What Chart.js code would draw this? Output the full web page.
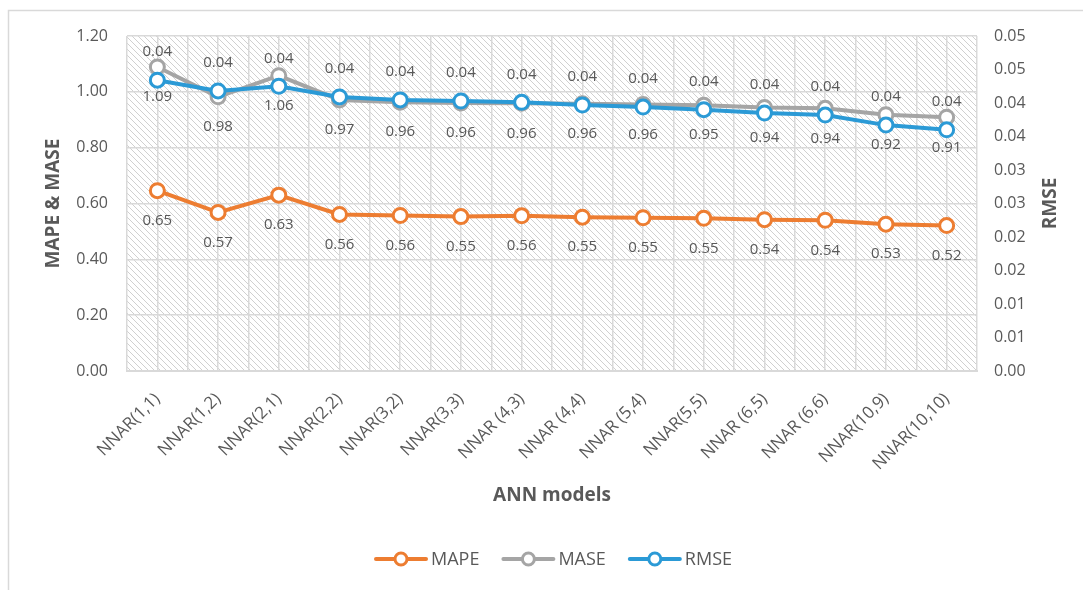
<!DOCTYPE html>
<html><head><meta charset="utf-8">
<script src="https://cdn.jsdelivr.net/npm/chart.js@4.4.1/dist/chart.umd.min.js"></script>
<style>html,body{margin:0;padding:0;background:#fff;overflow:hidden}canvas{display:block}</style>
</head><body>
<canvas id="c" width="1083" height="590"></canvas>
<script>
const categories = ['NNAR(1,1)','NNAR(1,2)','NNAR(2,1)','NNAR(2,2)','NNAR(3,2)','NNAR(3,3)','NNAR (4,3)','NNAR (4,4)','NNAR (5,4)','NNAR(5,5)','NNAR (6,5)','NNAR (6,6)','NNAR(10,9)','NNAR(10,10)'];
const mapeValues = [0.646,0.568,0.630,0.561,0.557,0.553,0.556,0.551,0.549,0.547,0.542,0.540,0.526,0.521];
const maseValues = [1.089,0.982,1.058,0.971,0.963,0.960,0.959,0.957,0.955,0.952,0.944,0.941,0.918,0.909];
const rmseValues = [0.0434,0.0418,0.0425,0.0409,0.04045,0.0403,0.0401,0.0397,0.0394,0.0390,0.0385,0.0382,0.0367,0.0360];
const leftTickLabels = ['0.00','0.20','0.40','0.60','0.80','1.00','1.20'];
const rightTickLabels = ['0.00','0.01','0.01','0.02','0.02','0.03','0.03','0.04','0.04','0.05','0.05'];
const seriesNames = ['MAPE','MASE','RMSE'];
const leftTitle = 'MAPE & MASE';
const rightTitle = 'RMSE';
const xTitle = 'ANN models';

const FONT = "'Open Sans', sans-serif";
const TXT = '#595959';
const GRID = '#d9d9d9';
const COLORS = ['#ED7D31', '#A5A5A5', '#2B9AD6'];

function fmt2(v){ return (Math.round(v*100 + 1e-7)/100).toFixed(2); }

const hatchTile = (() => {
  const s = 6, c = document.createElement('canvas');
  c.width = s; c.height = s;
  const g = c.getContext('2d');
  g.strokeStyle = '#d0d0d0'; g.lineWidth = 1;
  g.beginPath();
  g.moveTo(-1,-1); g.lineTo(s+1,s+1);
  g.moveTo(-1,s-1); g.lineTo(1,s+1);
  g.moveTo(s-1,-1); g.lineTo(s+1,1);
  g.stroke();
  return c;
})();

const framePlugin = {
  id: 'frame',
  beforeDraw(chart){
    const {ctx, chartArea:a} = chart;
    ctx.save();
    ctx.fillStyle = '#fff';
    ctx.fillRect(0,0,chart.width,chart.height);
    ctx.strokeStyle = GRID; ctx.lineWidth = 1.5;
    ctx.strokeRect(8.5, 10.5, 1200, 1000);
    ctx.fillStyle = ctx.createPattern(hatchTile, 'repeat');
    ctx.fillRect(a.left, a.top, a.right-a.left, a.bottom-a.top);
    ctx.restore();
  },
  afterDatasetsDraw(chart){
    const ctx = chart.ctx;
    ctx.save();
    ctx.font = '15px ' + FONT;
    ctx.fillStyle = TXT;
    ctx.textAlign = 'center';
    ctx.textBaseline = 'middle';
    chart.data.datasets.forEach((ds, i) => {
      const meta = chart.getDatasetMeta(i);
      meta.data.forEach((pt, j) => {
        ctx.fillText(fmt2(ds.data[j]), pt.x, pt.y + ds.labelOffset);
      });
    });
    ctx.restore();
  },
  afterDraw(chart){
    const {ctx, chartArea:a} = chart;
    ctx.save();
    ctx.fillStyle = TXT;
    ctx.font = 'bold 19px ' + FONT;
    ctx.textAlign = 'center';
    ctx.textBaseline = 'middle';
    const cy = (a.top + a.bottom)/2;
    ctx.save(); ctx.translate(54, cy); ctx.rotate(-Math.PI/2); ctx.fillText(leftTitle, 0, 0); ctx.restore();
    ctx.save(); ctx.translate(1051, cy); ctx.rotate(-Math.PI/2); ctx.fillText(rightTitle, 0, 0); ctx.restore();
    ctx.fillText(xTitle, (a.left + a.right)/2, 496);
    // legend
    ctx.font = '18px ' + FONT;
    ctx.textAlign = 'left';
    const lineW = 50, gapT = 5, gapI = 24, ly = 559;
    const items = chart.data.datasets.map(ds => ({label: ds.label, color: ds.borderColor, w: lineW + gapT + ctx.measureText(ds.label).width}));
    const total = items.reduce((s,it)=>s+it.w,0) + gapI*(items.length-1);
    let x = 554 - total/2;
    items.forEach(it => {
      ctx.strokeStyle = it.color; ctx.lineWidth = 4; ctx.lineCap = 'round';
      ctx.beginPath(); ctx.moveTo(x, ly); ctx.lineTo(x+lineW, ly); ctx.stroke();
      ctx.beginPath(); ctx.arc(x+lineW/2, ly, 6, 0, Math.PI*2);
      ctx.fillStyle = '#fff'; ctx.fill(); ctx.lineWidth = 3; ctx.stroke();
      ctx.fillStyle = TXT;
      ctx.fillText(it.label, x + lineW + gapT, ly + 1);
      x += it.w + gapI;
    });
    ctx.restore();
  }
};

const mkDs = (label, data, color, axis, offset, order) => ({
  label, data, yAxisID: axis, xAxisID: 'x',
  borderColor: color, backgroundColor: '#fff',
  borderWidth: 4, tension: 0,
  pointRadius: 7, pointHoverRadius: 7, pointBorderWidth: 3,
  pointBackgroundColor: '#fff', pointBorderColor: color,
  labelOffset: offset, order
});

new Chart(document.getElementById('c'), {
  type: 'line',
  data: {
    labels: categories,
    datasets: [
      mkDs(seriesNames[0], mapeValues, COLORS[0], 'y', 30, 2),
      mkDs(seriesNames[1], maseValues, COLORS[1], 'y', 30, 1),
      mkDs(seriesNames[2], rmseValues, COLORS[2], 'y2', -28, 0)
    ]
  },
  options: {
    responsive: false, animation: false, devicePixelRatio: 1,
    layout: { padding: { top: 36, left: 0, right: 0, bottom: 0 } },
    plugins: { legend: { display: false }, tooltip: { enabled: false } },
    scales: {
      x: {
        type: 'category', offset: true, position: 'bottom',
        grid: { display: false },
        border: { display: true, color: GRID, width: 2 },
        ticks: { color: TXT, font: { family: FONT, size: 17 }, minRotation: 45, maxRotation: 45, autoSkip: false, padding: 10 },
        afterFit(s){ s.height = 219; }
      },
      x2: {
        type: 'linear', position: 'bottom', min: -0.5, max: 13.5,
        ticks: { display: false, stepSize: 0.5 },
        grid: { color: GRID, lineWidth: 1.5, drawTicks: false },
        border: { display: false },
        afterFit(s){ s.height = 0; }
      },
      y: {
        position: 'left', min: 0, max: 1.2,
        ticks: { stepSize: 0.2, color: TXT, padding: 19, font: { family: FONT, size: 16 },
                 callback: (v, i) => leftTickLabels[i] },
        grid: { color: GRID, lineWidth: 1.5, drawTicks: false },
        border: { display: false },
        afterFit(s){ s.width = 127; }
      },
      y2: {
        position: 'right', min: 0, max: 0.05,
        ticks: { stepSize: 0.005, color: TXT, padding: 17, font: { family: FONT, size: 16 },
                 callback: (v, i) => rightTickLabels[i] },
        grid: { drawOnChartArea: false, drawTicks: false },
        border: { display: false },
        afterFit(s){ s.width = 106; }
      }
    }
  },
  plugins: [framePlugin]
});
</script>
</body></html>
